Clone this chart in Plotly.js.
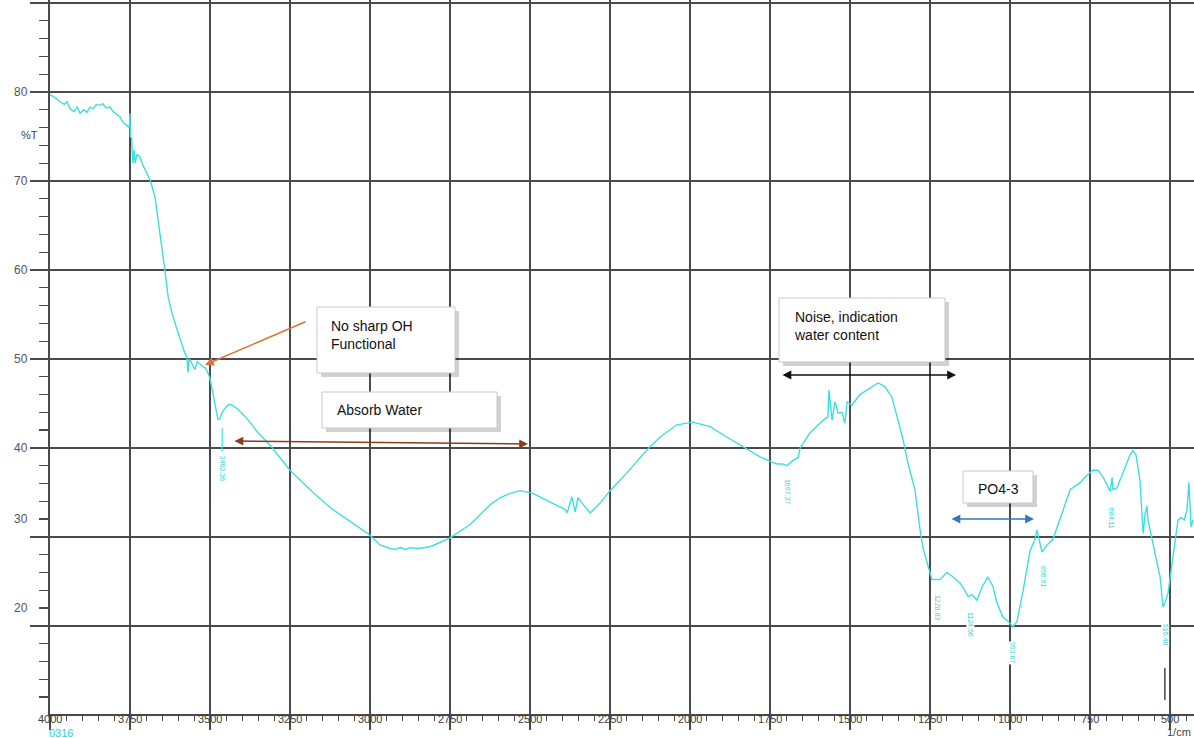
<!DOCTYPE html>
<html>
<head>
<meta charset="utf-8">
<script src="https://cdn.plot.ly/plotly-3.0.1.min.js"></script>
<style>html,body{margin:0;padding:0;background:#fff;}#chart{width:1194px;height:738px;}</style>
</head>
<body>
<div id="chart"></div>
<script>
// ---- Spectrum data (wavenumber 1/cm, %T) ----
const wavenumber = [4000,3985,3969,3955,3947,3937,3925,3915,3906,3895,3885,3875,3865,3855,3844,3835,3825,3812,3803,3790,3781,3772,3760,3752,3750,3749,3745,3741,3737,3734,3728,3719,3710,3700,3687,3672,3662,3650,3641,3631,3619,3603,3587,3578,3572,3569,3565,3558,3547,3540,3530,3522,3515,3506,3500,3491,3482,3475,3469,3462,3450,3440,3431,3415,3400,3375,3350,3312,3250,3187,3125,3062,3000,2969,2937,2920,2905,2890,2875,2850,2812,2780,2750,2687,2625,2594,2562,2531,2491,2437,2391,2384,2369,2359,2350,2337,2312,2281,2250,2197,2134,2094,2041,1991,1937,1884,1834,1800,1781,1750,1728,1710,1697,1678,1662,1656,1625,1584,1569,1566,1556,1547,1537,1525,1516,1509,1494,1469,1437,1412,1391,1369,1350,1334,1319,1297,1281,1272,1259,1244,1219,1197,1178,1156,1141,1131,1119,1103,1087,1069,1053,1041,1022,1000,991,978,959,937,922,916,900,884,866,850,812,781,760,741,725,709,687,681,678,666,647,634,625,616,606,594,584,578,572,569,556,547,531,522,516,506,491,475,466,456,447,441,434,428];
const transmittance = [79.7,79.4,78.9,78.6,78.9,78.1,77.8,78.3,77.6,78.0,77.7,78.3,78.1,78.6,78.5,78.7,78.2,78.3,77.8,77.5,77.2,76.6,76.3,76.0,77.6,75.0,74.8,72.0,73.5,72.0,73.0,72.7,71.8,71.0,70.1,68.2,65.6,62.6,60.0,57.0,55.2,53.3,51.4,50.6,50.2,48.5,50.0,49.6,48.8,49.7,49.4,49.1,49.0,48.4,47.8,46.2,44.5,43.2,43.3,44.0,44.6,44.9,44.8,44.4,43.9,42.9,41.7,40.3,37.5,35.3,33.3,31.7,30.2,29.1,28.7,28.6,28.8,28.6,28.8,28.7,28.9,29.4,29.9,31.4,33.6,34.4,34.9,35.2,34.9,33.9,33.1,32.7,34.5,32.8,34.4,33.8,32.7,33.8,35.2,37.2,39.8,41.2,42.6,42.9,42.4,41.2,40.1,39.4,39.0,38.5,38.2,38.2,38.0,38.6,38.9,40.0,41.7,43.1,43.5,46.5,43.1,45.2,43.9,44.0,42.8,45.2,44.8,46.0,46.7,47.3,46.9,45.7,43.1,40.9,38.3,35.3,30.8,28.8,27.1,25.2,25.2,26.0,25.5,24.8,24.0,23.3,23.5,22.9,24.4,25.5,24.4,22.6,21.0,20.3,19.9,20.5,24.0,28.5,29.7,30.8,28.3,29.1,29.7,31.3,35.3,36.1,36.9,37.5,37.5,36.7,35.1,36.7,35.3,35.5,37.3,38.4,39.2,39.7,39.2,36.4,30.4,32.5,33.5,31.9,29.7,28.5,25.5,22.1,22.6,23.7,27.4,31.9,32.2,31.9,33.0,36.1,31.1,31.9];

// ---- Axis tick labels ----
const xTickValues = [4000,3750,3500,3250,3000,2750,2500,2250,2000,1750,1500,1250,1000,750,500];
const xTickLabels = ['4000','3750','3500','3250','3000','2750','2500','2250','2000','1750','1500','1250','1000','750','500'];
const yTickLabels = ['80','70','60','50','40','30','20'];
const yTickLabelValues = [80,70,60,50,40,32,22];

// ---- Peak labels ----
const peakLabels = ['3462.36','1697.37','1228.83','1124.56','993.67','896.91','684.11','515.48'];
const peakWavenumber = [3462,1697,1228,1125,994,897,684,516];
const peakLabelT = [37.75,35.06,22.13,20.22,16.97,25.5,32.13,19.0];

// ---- Callout texts ----
const calloutTexts = ['No sharp OH<br>Functional','Absorb Water','Noise, indication<br>water content','PO4-3'];

// layout helpers (page pixel -> paper fraction)
const L = 50, R = 0, T = 0, B = 24, W = 1194, H = 738;
const PW = W - L - R, PH = H - T - B;
const px = x => (x - L) / PW;
const py = y => (H - B - y) / PH;

const grid = '#4a4a4a';
const cyan = '#3fdede';

const annotations = [];
// x tick labels
xTickValues.forEach((v, i) => annotations.push({
  x: v, xref: 'x', y: 0, yref: 'paper', yanchor: 'middle', xanchor: 'center', yshift: -5,
  text: xTickLabels[i], showarrow: false, font: {family: 'Liberation Sans, Arial', size: 11, color: '#3a3a3a'}
}));
// y tick labels
yTickLabels.forEach((t, i) => annotations.push({
  x: 0, xref: 'paper', xanchor: 'right', xshift: -20, y: yTickLabelValues[i], yref: 'y', yanchor: 'middle',
  text: t, showarrow: false, font: {family: 'Liberation Sans, Arial', size: 12, color: '#555'}
}));
// axis captions
annotations.push({x: px(19), xref: 'paper', y: 75.2, yref: 'y', text: '%T', showarrow: false,
  font: {family: 'Liberation Sans, Arial', size: 11, color: '#444'}});
annotations.push({x: px(47), xref: 'paper', xanchor: 'left', y: py(733), yref: 'paper', yanchor: 'middle', text: '0316', showarrow: false,
  font: {family: 'Liberation Sans, Arial', size: 11, color: '#33d0dc'}});
annotations.push({x: 1, xref: 'paper', xanchor: 'right', xshift: -1, y: py(732), yref: 'paper', yanchor: 'middle', text: '1/cm', showarrow: false,
  font: {family: 'Liberation Sans, Arial', size: 11, color: '#444'}});
// peak labels
peakLabels.forEach((t, i) => annotations.push({
  x: peakWavenumber[i], xref: 'x', y: peakLabelT[i], yref: 'y', text: t, textangle: 90, showarrow: false,
  bgcolor: '#ffffff', borderpad: 0, font: {family: 'Liberation Sans, Arial', size: 7, color: '#2fd6d6'}
}));
// callout boxes
const boxes = [
  {x0: 317, y0: 307, x1: 455, y1: 373, tx: 329, ty: 316},
  {x0: 322, y0: 392, x1: 497, y1: 428, tx: 335, ty: 400},
  {x0: 779, y0: 298, x1: 945, y1: 362, tx: 792, ty: 307},
  {x0: 963, y0: 471, x1: 1033, y1: 503, tx: 998, ty: 479}
];
const shapes = [];
boxes.forEach((b, i) => {
  shapes.push({type: 'rect', xref: 'paper', yref: 'paper', x0: px(b.x0 + 4), x1: px(b.x1 + 4), y0: py(b.y0 + 4), y1: py(b.y1 + 4),
    fillcolor: 'rgba(0,0,0,0.18)', line: {width: 0}, layer: 'above'});
  shapes.push({type: 'rect', xref: 'paper', yref: 'paper', x0: px(b.x0), x1: px(b.x1), y0: py(b.y0), y1: py(b.y1),
    fillcolor: '#ffffff', line: {width: 1, color: '#c9c9c9'}, layer: 'above'});
  annotations.push({x: px(b.tx), xref: 'paper', y: py(b.ty), yref: 'paper',
    xanchor: i === 3 ? 'center' : 'left', yanchor: 'top', align: 'left', text: calloutTexts[i], showarrow: false,
    font: {family: 'Liberation Sans, Arial', size: 14, color: '#111'}});
});
// arrows
const arrows = [
  {hx: 205, hy: 365, tx: 307, ty: 321, c: '#d8743c', both: false},
  {hx: 528, hy: 444, tx: 233, ty: 441, c: '#8e3b1a', both: true},
  {hx: 956, hy: 375, tx: 781, ty: 375, c: '#111111', both: true},
  {hx: 1034, hy: 519, tx: 950, ty: 519, c: '#2f78c0', both: true}
];
arrows.forEach(a => annotations.push({
  x: px(a.hx), xref: 'paper', y: py(a.hy), yref: 'paper', text: '', showarrow: true,
  axref: 'pixel', ayref: 'pixel', ax: a.tx - a.hx, ay: a.ty - a.hy,
  arrowhead: 2, arrowsize: 1.1, arrowwidth: 1.6, arrowcolor: a.c, arrowside: a.both ? 'end+start' : 'end', standoff: 0, startstandoff: 0
}));
// peak marker at 3462 and dark tick near 500
shapes.push({type: 'line', xref: 'x', yref: 'y', x0: 3462, x1: 3462, y0: 42.2, y1: 39.6, line: {color: cyan, width: 1.2}});
shapes.push({type: 'line', xref: 'x', yref: 'paper', x0: 516, x1: 516, y0: py(668), y1: py(700), line: {color: '#444', width: 1.5}});

const trace = {
  x: wavenumber, y: transmittance, type: 'scatter', mode: 'lines',
  line: {color: cyan, width: 1.4}, hoverinfo: 'skip'
};

const layout = {
  width: W, height: H,
  margin: {l: L, r: R, t: T, b: B, pad: 0},
  paper_bgcolor: '#ffffff', plot_bgcolor: '#ffffff',
  showlegend: false,
  xaxis: {
    range: [4000, 425], tick0: 0, dtick: 250, showticklabels: false,
    showgrid: true, gridcolor: grid, gridwidth: 1.6, zeroline: false,
    showline: true, linecolor: grid, linewidth: 1.6,
    ticks: 'outside', ticklen: 14, tickwidth: 1.6, tickcolor: grid,
    minor: {ticks: 'outside', dtick: 50, tick0: 0, ticklen: 5, tickwidth: 1, tickcolor: grid, showgrid: false}
  },
  yaxis: {
    range: [10.1, 90.34], tick0: 0, dtick: 10, showticklabels: false,
    showgrid: true, gridcolor: grid, gridwidth: 1.6, zeroline: false,
    showline: true, linecolor: grid, linewidth: 1.6,
    ticks: 'outside', ticklen: 18, tickwidth: 1.6, tickcolor: grid,
    minor: {ticks: 'outside', dtick: 2, tick0: 0, ticklen: 9, tickwidth: 1.3, tickcolor: grid, showgrid: false}
  },
  annotations: annotations,
  shapes: shapes
};

Plotly.newPlot('chart', [trace], layout, {displayModeBar: false, staticPlot: true});
</script>
</body>
</html>
